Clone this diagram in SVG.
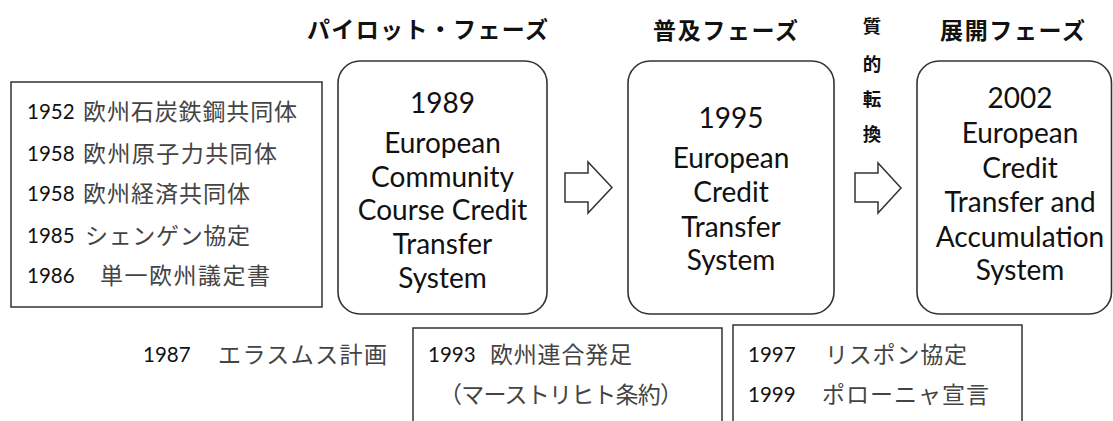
<svg xmlns="http://www.w3.org/2000/svg" width="1113" height="421" viewBox="0 0 1113 421">
<style>
.box{fill:#fff;stroke:#333;stroke-width:1.5}
.rbox{fill:#fff;stroke:#333;stroke-width:1.6}
.arrow{fill:#fff;stroke:#333;stroke-width:1.5;stroke-linejoin:miter}
.num{font-family:Lato,"Liberation Sans",sans-serif;font-size:20.5px;fill:#111}
.jp{font-family:"Noto Sans CJK JP",sans-serif;font-size:23px;fill:#444}
.head{font-family:"Noto Sans CJK JP",sans-serif;font-size:23px;font-weight:bold;fill:#111}
.vert{font-family:"Noto Sans CJK JP",sans-serif;font-size:18.5px;font-weight:bold;fill:#111;text-anchor:middle}
.en{font-family:Lato,"Liberation Sans",sans-serif;font-size:28px;fill:#111;text-anchor:middle}
</style>
<rect width="1113" height="421" fill="#fff"/>

<g id="headings">
<text class="head" x="307" y="38" textLength="241" lengthAdjust="spacing">パイロット・フェーズ</text>
<text class="head" x="653" y="38.5" textLength="145" lengthAdjust="spacing">普及フェーズ</text>
<text class="head" x="940" y="38.5" textLength="145" lengthAdjust="spacing">展開フェーズ</text>
<text class="vert" x="872" y="33">質</text>
<text class="vert" x="872" y="71">的</text>
<text class="vert" x="872" y="106">転</text>
<text class="vert" x="872" y="141">換</text>
</g>

<g id="history-box">
<rect class="box" x="11" y="82" width="311" height="225"/>
<text class="num" x="27" y="119">1952</text>
<text class="jp" x="83" y="120" textLength="214" lengthAdjust="spacing">欧州石炭鉄鋼共同体</text>
<text class="num" x="27" y="161">1958</text>
<text class="jp" x="83" y="162" textLength="194" lengthAdjust="spacing">欧州原子力共同体</text>
<text class="num" x="27" y="201">1958</text>
<text class="jp" x="83" y="202" textLength="167" lengthAdjust="spacing">欧州経済共同体</text>
<text class="num" x="27" y="243">1985</text>
<text class="jp" x="85" y="244" textLength="165" lengthAdjust="spacing">シェンゲン協定</text>
<text class="num" x="27" y="283">1986</text>
<text class="jp" x="100" y="284" textLength="170" lengthAdjust="spacing">単一欧州議定書</text>
</g>

<g id="ects-1989">
<rect class="rbox" x="338" y="61" width="209" height="253" rx="22"/>
<text class="en" x="442.5" y="113">1989</text>
<text class="en" x="442.5" y="153">European</text>
<text class="en" x="442.5" y="187">Community</text>
<text class="en" x="442.5" y="220">Course Credit</text>
<text class="en" x="442.5" y="254">Transfer</text>
<text class="en" x="442.5" y="288">System</text>
</g>

<g id="ects-1995">
<rect class="rbox" x="628" y="61" width="206" height="253" rx="22"/>
<text class="en" x="731" y="128">1995</text>
<text class="en" x="731" y="168">European</text>
<text class="en" x="731" y="202">Credit</text>
<text class="en" x="731" y="237">Transfer</text>
<text class="en" x="731" y="270">System</text>
</g>

<g id="ects-2002">
<rect class="rbox" x="917" y="61" width="194.5" height="253" rx="22"/>
<text class="en" x="1020" y="108">2002</text>
<text class="en" x="1020" y="143">European</text>
<text class="en" x="1020" y="178">Credit</text>
<text class="en" x="1020" y="212">Transfer and</text>
<text class="en" x="1020" y="247">Accumulation</text>
<text class="en" x="1020" y="280">System</text>
</g>

<g id="connectors">
<path class="arrow" d="M565,173 H588 V162 L612,187.5 L588,213 V202 H565 Z"/>
<path class="arrow" d="M855,173 H878 V163 L901,188 L878,213 V202 H855 Z"/>
</g>

<g id="erasmus">
<text class="num" x="143" y="362">1987</text>
<text class="jp" x="218" y="363" textLength="169" lengthAdjust="spacing">エラスムス計画</text>
</g>

<g id="eu-1993">
<rect class="box" x="413" y="328" width="309" height="110"/>
<text class="num" x="428" y="362">1993</text>
<text class="jp" x="490" y="363" textLength="142" lengthAdjust="spacing">欧州連合発足</text>
<text class="jp" x="439" y="403" textLength="244" lengthAdjust="spacing">（マーストリヒト条約）</text>
</g>

<g id="lisbon-bologna">
<rect class="box" x="733" y="325" width="289" height="110"/>
<text class="num" x="748" y="362">1997</text>
<text class="jp" x="825" y="363" textLength="142" lengthAdjust="spacing">リスポン協定</text>
<text class="num" x="748" y="402">1999</text>
<text class="jp" x="822" y="403" textLength="167" lengthAdjust="spacing">ポローニャ宣言</text>
</g>
</svg>
